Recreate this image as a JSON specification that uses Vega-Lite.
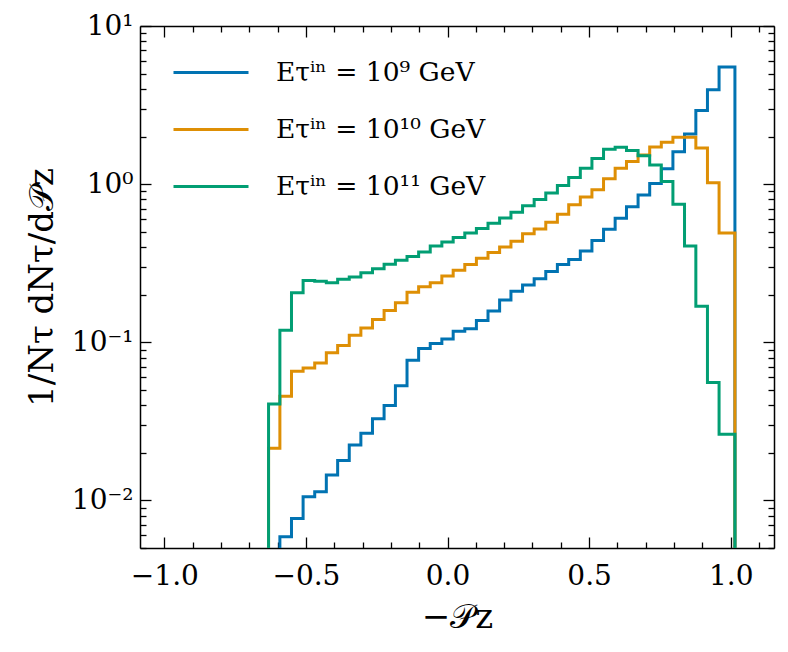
{
  "$schema": "https://vega.github.io/schema/vega-lite/v6.json",
  "width": 634,
  "height": 522,
  "autosize": {"type": "none"},
  "padding": {"left": 140, "top": 26, "right": 14, "bottom": 104},
  "background": "white",
  "config": {
    "view": {"stroke": null},
    "font": "DejaVu Serif",
    "axis": {
      "grid": false,
      "domainColor": "black",
      "domainWidth": 1.5,
      "tickColor": "black",
      "tickWidth": 1.3,
      "labelColor": "black",
      "titleColor": "black",
      "labelFont": "DejaVu Serif",
      "titleFont": "DejaVu Serif",
      "titleFontWeight": "normal",
      "labelFontSize": 28,
      "titleFontSize": 34
    }
  },
  "data": {
    "values": [
      {"E": "10⁹", "i": 0, "x": -0.592, "y": 0.001},
      {"E": "10⁹", "i": 1, "x": -0.592, "y": 0.00589},
      {"E": "10⁹", "i": 2, "x": -0.551, "y": 0.00769},
      {"E": "10⁹", "i": 3, "x": -0.510, "y": 0.01055},
      {"E": "10⁹", "i": 4, "x": -0.469, "y": 0.01136},
      {"E": "10⁹", "i": 5, "x": -0.428, "y": 0.01449},
      {"E": "10⁹", "i": 6, "x": -0.388, "y": 0.01786},
      {"E": "10⁹", "i": 7, "x": -0.347, "y": 0.02244},
      {"E": "10⁹", "i": 8, "x": -0.306, "y": 0.0266},
      {"E": "10⁹", "i": 9, "x": -0.265, "y": 0.0328},
      {"E": "10⁹", "i": 10, "x": -0.224, "y": 0.0398},
      {"E": "10⁹", "i": 11, "x": -0.184, "y": 0.0531},
      {"E": "10⁹", "i": 12, "x": -0.143, "y": 0.0769},
      {"E": "10⁹", "i": 13, "x": -0.102, "y": 0.0912},
      {"E": "10⁹", "i": 14, "x": -0.061, "y": 0.0981},
      {"E": "10⁹", "i": 15, "x": -0.020, "y": 0.105},
      {"E": "10⁹", "i": 16, "x": 0.020, "y": 0.1174},
      {"E": "10⁹", "i": 17, "x": 0.061, "y": 0.1216},
      {"E": "10⁹", "i": 18, "x": 0.102, "y": 0.1374},
      {"E": "10⁹", "i": 19, "x": 0.143, "y": 0.1574},
      {"E": "10⁹", "i": 20, "x": 0.184, "y": 0.185},
      {"E": "10⁹", "i": 21, "x": 0.224, "y": 0.21},
      {"E": "10⁹", "i": 22, "x": 0.265, "y": 0.23},
      {"E": "10⁹", "i": 23, "x": 0.306, "y": 0.252},
      {"E": "10⁹", "i": 24, "x": 0.347, "y": 0.28},
      {"E": "10⁹", "i": 25, "x": 0.388, "y": 0.31},
      {"E": "10⁹", "i": 26, "x": 0.428, "y": 0.334},
      {"E": "10⁹", "i": 27, "x": 0.469, "y": 0.378},
      {"E": "10⁹", "i": 28, "x": 0.510, "y": 0.44},
      {"E": "10⁹", "i": 29, "x": 0.551, "y": 0.518},
      {"E": "10⁹", "i": 30, "x": 0.592, "y": 0.608},
      {"E": "10⁹", "i": 31, "x": 0.632, "y": 0.72},
      {"E": "10⁹", "i": 32, "x": 0.673, "y": 0.853},
      {"E": "10⁹", "i": 33, "x": 0.714, "y": 1.01},
      {"E": "10⁹", "i": 34, "x": 0.755, "y": 1.25},
      {"E": "10⁹", "i": 35, "x": 0.796, "y": 1.60},
      {"E": "10⁹", "i": 36, "x": 0.837, "y": 2.075},
      {"E": "10⁹", "i": 37, "x": 0.877, "y": 2.92},
      {"E": "10⁹", "i": 38, "x": 0.918, "y": 3.95},
      {"E": "10⁹", "i": 39, "x": 0.959, "y": 5.50},
      {"E": "10⁹", "i": 40, "x": 1.015, "y": 0.001},

      {"E": "10¹⁰", "i": 0, "x": -0.632, "y": 0.001},
      {"E": "10¹⁰", "i": 1, "x": -0.632, "y": 0.0214},
      {"E": "10¹⁰", "i": 2, "x": -0.592, "y": 0.0455},
      {"E": "10¹⁰", "i": 3, "x": -0.551, "y": 0.0655},
      {"E": "10¹⁰", "i": 4, "x": -0.510, "y": 0.0688},
      {"E": "10¹⁰", "i": 5, "x": -0.469, "y": 0.074},
      {"E": "10¹⁰", "i": 6, "x": -0.428, "y": 0.0857},
      {"E": "10¹⁰", "i": 7, "x": -0.388, "y": 0.0953},
      {"E": "10¹⁰", "i": 8, "x": -0.347, "y": 0.1107},
      {"E": "10¹⁰", "i": 9, "x": -0.306, "y": 0.1233},
      {"E": "10¹⁰", "i": 10, "x": -0.265, "y": 0.1393},
      {"E": "10¹⁰", "i": 11, "x": -0.224, "y": 0.159},
      {"E": "10¹⁰", "i": 12, "x": -0.184, "y": 0.178},
      {"E": "10¹⁰", "i": 13, "x": -0.143, "y": 0.2075},
      {"E": "10¹⁰", "i": 14, "x": -0.102, "y": 0.2245},
      {"E": "10¹⁰", "i": 15, "x": -0.061, "y": 0.238},
      {"E": "10¹⁰", "i": 16, "x": -0.020, "y": 0.262},
      {"E": "10¹⁰", "i": 17, "x": 0.020, "y": 0.285},
      {"E": "10¹⁰", "i": 18, "x": 0.061, "y": 0.31},
      {"E": "10¹⁰", "i": 19, "x": 0.102, "y": 0.34},
      {"E": "10¹⁰", "i": 20, "x": 0.143, "y": 0.37},
      {"E": "10¹⁰", "i": 21, "x": 0.184, "y": 0.40},
      {"E": "10¹⁰", "i": 22, "x": 0.224, "y": 0.435},
      {"E": "10¹⁰", "i": 23, "x": 0.265, "y": 0.485},
      {"E": "10¹⁰", "i": 24, "x": 0.306, "y": 0.52},
      {"E": "10¹⁰", "i": 25, "x": 0.347, "y": 0.575},
      {"E": "10¹⁰", "i": 26, "x": 0.388, "y": 0.645},
      {"E": "10¹⁰", "i": 27, "x": 0.428, "y": 0.74},
      {"E": "10¹⁰", "i": 28, "x": 0.469, "y": 0.83},
      {"E": "10¹⁰", "i": 29, "x": 0.510, "y": 0.92},
      {"E": "10¹⁰", "i": 30, "x": 0.551, "y": 1.08},
      {"E": "10¹⁰", "i": 31, "x": 0.592, "y": 1.26},
      {"E": "10¹⁰", "i": 32, "x": 0.632, "y": 1.39},
      {"E": "10¹⁰", "i": 33, "x": 0.673, "y": 1.53},
      {"E": "10¹⁰", "i": 34, "x": 0.714, "y": 1.72},
      {"E": "10¹⁰", "i": 35, "x": 0.755, "y": 1.84},
      {"E": "10¹⁰", "i": 36, "x": 0.796, "y": 1.98},
      {"E": "10¹⁰", "i": 37, "x": 0.837, "y": 1.98},
      {"E": "10¹⁰", "i": 38, "x": 0.877, "y": 1.69},
      {"E": "10¹⁰", "i": 39, "x": 0.918, "y": 1.02},
      {"E": "10¹⁰", "i": 40, "x": 0.959, "y": 0.49},
      {"E": "10¹⁰", "i": 41, "x": 1.015, "y": 0.001},

      {"E": "10¹¹", "i": 0, "x": -0.632, "y": 0.001},
      {"E": "10¹¹", "i": 1, "x": -0.632, "y": 0.0407},
      {"E": "10¹¹", "i": 2, "x": -0.592, "y": 0.119},
      {"E": "10¹¹", "i": 3, "x": -0.551, "y": 0.206},
      {"E": "10¹¹", "i": 4, "x": -0.510, "y": 0.246},
      {"E": "10¹¹", "i": 5, "x": -0.469, "y": 0.243},
      {"E": "10¹¹", "i": 6, "x": -0.428, "y": 0.238},
      {"E": "10¹¹", "i": 7, "x": -0.388, "y": 0.250},
      {"E": "10¹¹", "i": 8, "x": -0.347, "y": 0.259},
      {"E": "10¹¹", "i": 9, "x": -0.306, "y": 0.275},
      {"E": "10¹¹", "i": 10, "x": -0.265, "y": 0.292},
      {"E": "10¹¹", "i": 11, "x": -0.224, "y": 0.311},
      {"E": "10¹¹", "i": 12, "x": -0.184, "y": 0.330},
      {"E": "10¹¹", "i": 13, "x": -0.143, "y": 0.348},
      {"E": "10¹¹", "i": 14, "x": -0.102, "y": 0.372},
      {"E": "10¹¹", "i": 15, "x": -0.061, "y": 0.406},
      {"E": "10¹¹", "i": 16, "x": -0.020, "y": 0.431},
      {"E": "10¹¹", "i": 17, "x": 0.020, "y": 0.459},
      {"E": "10¹¹", "i": 18, "x": 0.061, "y": 0.49},
      {"E": "10¹¹", "i": 19, "x": 0.102, "y": 0.525},
      {"E": "10¹¹", "i": 20, "x": 0.143, "y": 0.565},
      {"E": "10¹¹", "i": 21, "x": 0.184, "y": 0.61},
      {"E": "10¹¹", "i": 22, "x": 0.224, "y": 0.665},
      {"E": "10¹¹", "i": 23, "x": 0.265, "y": 0.73},
      {"E": "10¹¹", "i": 24, "x": 0.306, "y": 0.80},
      {"E": "10¹¹", "i": 25, "x": 0.347, "y": 0.88},
      {"E": "10¹¹", "i": 26, "x": 0.388, "y": 0.98},
      {"E": "10¹¹", "i": 27, "x": 0.428, "y": 1.10},
      {"E": "10¹¹", "i": 28, "x": 0.469, "y": 1.26},
      {"E": "10¹¹", "i": 29, "x": 0.510, "y": 1.45},
      {"E": "10¹¹", "i": 30, "x": 0.551, "y": 1.66},
      {"E": "10¹¹", "i": 31, "x": 0.592, "y": 1.71},
      {"E": "10¹¹", "i": 32, "x": 0.632, "y": 1.63},
      {"E": "10¹¹", "i": 33, "x": 0.673, "y": 1.51},
      {"E": "10¹¹", "i": 34, "x": 0.714, "y": 1.32},
      {"E": "10¹¹", "i": 35, "x": 0.755, "y": 1.04},
      {"E": "10¹¹", "i": 36, "x": 0.796, "y": 0.747},
      {"E": "10¹¹", "i": 37, "x": 0.837, "y": 0.406},
      {"E": "10¹¹", "i": 38, "x": 0.877, "y": 0.169},
      {"E": "10¹¹", "i": 39, "x": 0.918, "y": 0.0557},
      {"E": "10¹¹", "i": 40, "x": 0.959, "y": 0.0262},
      {"E": "10¹¹", "i": 41, "x": 1.015, "y": 0.001}
    ]
  },
  "layer": [
    {
      "transform": [{"filter": "datum.E === '10⁹'"}],
      "mark": {"type": "line", "interpolate": "step-after", "strokeWidth": 3, "clip": true},
      "encoding": {
        "x": {
          "field": "x", "type": "quantitative",
          "scale": {"domain": [-1.086, 1.153], "nice": false, "zero": false},
          "axis": {
            "orient": "bottom",
            "values": [-1, -0.5, 0, 0.5, 1],
            "format": ".1f",
            "tickSize": -11,
            "labelPadding": 25,
            "title": "−𝒫z",
            "titlePadding": 10
          }
        },
        "y": {
          "field": "y", "type": "quantitative",
          "scale": {"type": "log", "domain": [0.005, 10], "nice": false},
          "axis": {
            "orient": "left",
            "values": [0.01, 0.1, 1, 10],
            "labelExpr": "datum.value > 5 ? '10¹' : datum.value > 0.5 ? '10⁰' : datum.value > 0.05 ? '10⁻¹' : '10⁻²'",
            "tickSize": -11,
            "labelPadding": 18,
            "title": "1/Nτ dNτ/d𝒫z",
            "titlePadding": 12
          }
        },
        "color": {
          "field": "E", "type": "nominal",
          "scale": {"domain": ["10⁹", "10¹⁰", "10¹¹"], "range": ["#0173B2", "#DE8F05", "#029E73"]},
          "legend": {
            "orient": "none",
            "legendX": 32,
            "legendY": 7.5,
            "title": null,
            "padding": 0,
            "symbolType": "stroke",
            "symbolSize": 5625,
            "symbolStrokeWidth": 3,
            "labelFont": "DejaVu Serif",
            "labelFontSize": 26.5,
            "labelColor": "black",
            "labelOffset": 26,
            "labelLimit": 400,
            "rowPadding": 4,
            "labelExpr": "'Eτⁱⁿ = ' + datum.label + ' GeV'"
          }
        },
        "order": {"field": "i"}
      }
    },
    {
      "transform": [{"filter": "datum.E === '10¹⁰'"}],
      "mark": {"type": "line", "interpolate": "step-after", "strokeWidth": 3, "clip": true},
      "encoding": {
        "x": {"field": "x", "type": "quantitative", "axis": null},
        "y": {"field": "y", "type": "quantitative", "axis": null},
        "color": {"field": "E", "type": "nominal"},
        "order": {"field": "i"}
      }
    },
    {
      "transform": [{"filter": "datum.E === '10¹¹'"}],
      "mark": {"type": "line", "interpolate": "step-after", "strokeWidth": 3, "clip": true},
      "encoding": {
        "x": {"field": "x", "type": "quantitative", "axis": null},
        "y": {"field": "y", "type": "quantitative", "axis": null},
        "color": {"field": "E", "type": "nominal"},
        "order": {"field": "i"}
      }
    },
    {
      "transform": [{"filter": "datum.E === '10⁹'"}],
      "mark": {"type": "line", "opacity": 0, "clip": true},
      "encoding": {
        "x": {
          "field": "x", "type": "quantitative",
          "axis": {
            "orient": "bottom", "labels": false, "domain": false, "title": null, "tickSize": -6,
            "values": [-0.9, -0.8, -0.7, -0.6, -0.4, -0.3, -0.2, -0.1, 0.1, 0.2, 0.3, 0.4, 0.6, 0.7, 0.8, 0.9, 1.1]
          }
        },
        "y": {
          "field": "y", "type": "quantitative",
          "axis": {
            "orient": "left", "labels": false, "domain": false, "title": null, "tickSize": -6,
            "values": [0.005, 0.006, 0.007, 0.008, 0.009, 0.02, 0.03, 0.04, 0.05, 0.06, 0.07, 0.08, 0.09, 0.2, 0.3, 0.4, 0.5, 0.6, 0.7, 0.8, 0.9, 2, 3, 4, 5, 6, 7, 8, 9]
          }
        },
        "order": {"field": "i"}
      }
    },
    {
      "transform": [{"filter": "datum.E === '10⁹'"}],
      "mark": {"type": "line", "opacity": 0, "clip": true},
      "encoding": {
        "x": {
          "field": "x", "type": "quantitative",
          "axis": {"orient": "top", "labels": false, "title": null, "tickSize": -11, "values": [-1, -0.5, 0, 0.5, 1]}
        },
        "y": {
          "field": "y", "type": "quantitative",
          "axis": {"orient": "right", "labels": false, "title": null, "tickSize": -11, "values": [0.01, 0.1, 1, 10]}
        },
        "order": {"field": "i"}
      }
    },
    {
      "transform": [{"filter": "datum.E === '10⁹'"}],
      "mark": {"type": "line", "opacity": 0, "clip": true},
      "encoding": {
        "x": {
          "field": "x", "type": "quantitative",
          "axis": {
            "orient": "top", "labels": false, "domain": false, "title": null, "tickSize": -6,
            "values": [-0.9, -0.8, -0.7, -0.6, -0.4, -0.3, -0.2, -0.1, 0.1, 0.2, 0.3, 0.4, 0.6, 0.7, 0.8, 0.9, 1.1]
          }
        },
        "y": {
          "field": "y", "type": "quantitative",
          "axis": {
            "orient": "right", "labels": false, "domain": false, "title": null, "tickSize": -6,
            "values": [0.005, 0.006, 0.007, 0.008, 0.009, 0.02, 0.03, 0.04, 0.05, 0.06, 0.07, 0.08, 0.09, 0.2, 0.3, 0.4, 0.5, 0.6, 0.7, 0.8, 0.9, 2, 3, 4, 5, 6, 7, 8, 9]
          }
        },
        "order": {"field": "i"}
      }
    }
  ],
  "resolve": {"axis": {"x": "independent", "y": "independent"}}
}
